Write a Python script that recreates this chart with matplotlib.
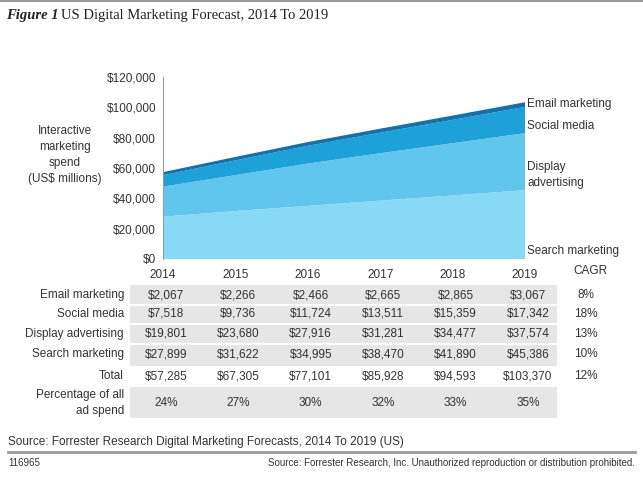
import matplotlib
matplotlib.use("Agg")
import matplotlib.pyplot as plt
from matplotlib.patches import Rectangle
from matplotlib.transforms import blended_transform_factory
from matplotlib.ticker import FuncFormatter

years = [2014, 2015, 2016, 2017, 2018, 2019]
email = [2067, 2266, 2466, 2665, 2865, 3067]
social = [7518, 9736, 11724, 13511, 15359, 17342]
display = [19801, 23680, 27916, 31281, 34477, 37574]
search = [27899, 31622, 34995, 38470, 41890, 45386]
total = [57285, 67305, 77101, 85928, 94593, 103370]
pct_ad_spend = [24, 27, 30, 32, 33, 35]
cagr = {"Email marketing": 8, "Social media": 18, "Display advertising": 13,
        "Search marketing": 10, "Total": 12}

colors = {"search": "#88d9f5", "display": "#62c6ec", "social": "#1ea0d8", "email": "#1670aa"}
SANS = ["Liberation Sans Narrow", "Liberation Sans", "DejaVu Sans"]
TEXT = "#333333"
FS = 8.5

W, H = 643, 486


def fy(pix):
    """Convert a pixel row (from top) to figure fraction."""
    return 1 - pix / H


plt.rcParams["font.family"] = SANS
fig = plt.figure(figsize=(W / 100, H / 100), dpi=100)
fig.patch.set_facecolor("white")

ax = fig.add_axes([163 / W, fy(259), 362 / W, (259 - 77) / H])
ax.stackplot(years, search, display, social, email,
             colors=[colors["search"], colors["display"], colors["social"], colors["email"]],
             linewidth=0)
ax.set_xlim(years[0], years[-1])
ax.set_ylim(0, 120000)
ax.set_yticks(range(0, 120001, 20000))
ax.yaxis.set_major_formatter(FuncFormatter(lambda v, _: f"${v:,.0f}"))
ax.set_xticks(years)
ax.tick_params(length=0, labelsize=FS, colors=TEXT, pad=5)
ax.tick_params(axis="x", pad=7)
for side in ("top", "right", "bottom"):
    ax.spines[side].set_visible(False)
ax.spines["left"].set_color("#999999")
ax.spines["left"].set_linewidth(0.8)
ax.set_facecolor("none")

# series labels on the right
for label, ypix in [("Email marketing", 104), ("Social media", 126),
                    ("Display\nadvertising", 175), ("Search marketing", 251)]:
    fig.text(527 / W, fy(ypix), label, fontsize=FS, color=TEXT, va="center", ha="left",
             linespacing=1.5)

fig.text(65 / W, fy(155), "Interactive\nmarketing\nspend\n(US$ millions)", fontsize=FS,
         color=TEXT, ha="center", va="center", linespacing=1.45)

fig.text(590 / W, fy(271), "CAGR", fontsize=FS, color=TEXT, ha="center", va="center")

# title and top rule
fig.add_artist(plt.Line2D([0, 1], [fy(1), fy(1)], color="#999999", lw=1.5))
fig.text(6 / W, fy(15), "Figure 1", fontsize=10.5, family="Liberation Serif",
         style="italic", weight="bold", va="center", color="#222222")
fig.text(61 / W, fy(15), "US Digital Marketing Forecast, 2014 To 2019", fontsize=10.5,
         family="Liberation Serif", va="center", color="#222222")

# table background
fig.add_artist(Rectangle((130 / W, fy(366)), 427 / W, 81 / H, transform=fig.transFigure,
                         facecolor="#e6e6e6", edgecolor="none", zorder=1))
fig.add_artist(Rectangle((130 / W, fy(418)), 427 / W, 31 / H, transform=fig.transFigure,
                         facecolor="#e6e6e6", edgecolor="none", zorder=1))
for ypix in (305, 324, 344):
    fig.add_artist(plt.Line2D([130 / W, 557 / W], [fy(ypix), fy(ypix)], color="white",
                              lw=1.5, zorder=1.5))

col = blended_transform_factory(ax.transData, fig.transFigure)
rows = [("Email marketing", email, 295), ("Social media", social, 314),
        ("Display advertising", display, 334), ("Search marketing", search, 354),
        ("Total", total, 376)]
for name, values, ypix in rows:
    fig.text(124 / W, fy(ypix), name, fontsize=FS, color=TEXT, ha="right", va="center")
    for yr, v in zip(years, values):
        fig.text(yr + 0.04, fy(ypix), f"${v:,}", transform=col, fontsize=FS, color=TEXT,
                 ha="center", va="center", zorder=3)
    fig.text(586 / W, fy(ypix), f"{cagr[name]}%", fontsize=FS, color=TEXT, ha="center",
             va="center")

fig.text(124 / W, fy(403), "Percentage of all\nad spend", fontsize=FS, color=TEXT, ha="right",
         va="center", multialignment="right", linespacing=1.45)
for yr, p in zip(years, pct_ad_spend):
    fig.text(yr + 0.04, fy(403), f"{p}%", transform=col, fontsize=FS, color=TEXT,
             ha="center", va="center", zorder=3)

# footer
fig.text(8 / W, fy(442), "Source: Forrester Research Digital Marketing Forecasts, 2014 To 2019 (US)",
         fontsize=FS, color=TEXT, va="center")
fig.add_artist(plt.Line2D([8 / W, 635 / W], [fy(452), fy(452)], color="#999999", lw=2))
fig.text(8 / W, fy(463), "116965", fontsize=7, color=TEXT, va="center")
fig.text(635 / W, fy(463),
         "Source: Forrester Research, Inc. Unauthorized reproduction or distribution prohibited.",
         fontsize=7, color=TEXT, va="center", ha="right")

fig.savefig("out.png", dpi=100)
